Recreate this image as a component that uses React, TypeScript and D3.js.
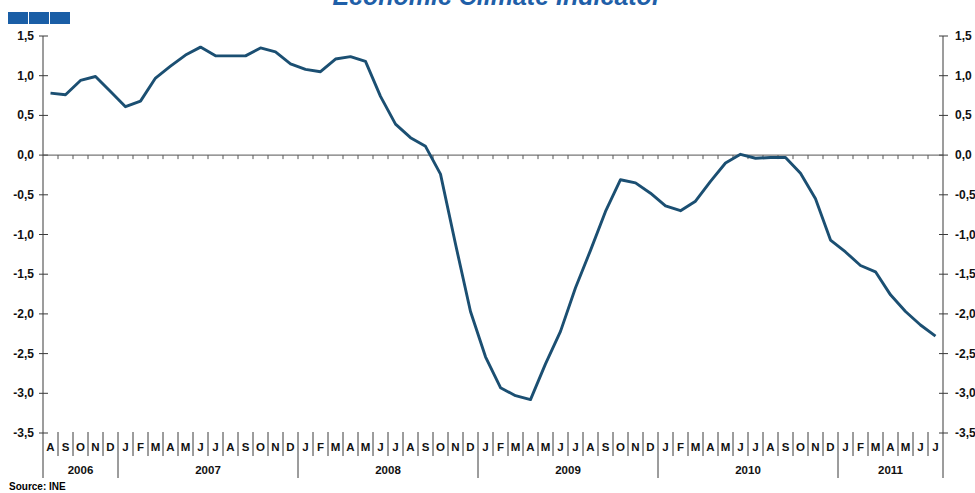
import React from 'react';
import * as d3 from 'd3';

const years = ['2006', '2007', '2008', '2009', '2010', '2011'];
const yearMonths: string[][] = [
  ['A', 'S', 'O', 'N', 'D'],
  ['J', 'F', 'M', 'A', 'M', 'J', 'J', 'A', 'S', 'O', 'N', 'D'],
  ['J', 'F', 'M', 'A', 'M', 'J', 'J', 'A', 'S', 'O', 'N', 'D'],
  ['J', 'F', 'M', 'A', 'M', 'J', 'J', 'A', 'S', 'O', 'N', 'D'],
  ['J', 'F', 'M', 'A', 'M', 'J', 'J', 'A', 'S', 'O', 'N', 'D'],
  ['J', 'F', 'M', 'A', 'M', 'J', 'J'],
];

// indicator values, Aug 2006 .. Jul 2011
const values2006 = [0.78, 0.76, 0.94, 0.99, 0.8];
const values2007 = [0.61, 0.68, 0.97, 1.12, 1.26, 1.36, 1.25, 1.25, 1.25, 1.35, 1.3, 1.15];
const values2008 = [1.08, 1.05, 1.21, 1.24, 1.18, 0.74, 0.39, 0.22, 0.11, -0.24, -1.12, -1.97];
const values2009 = [-2.54, -2.93, -3.03, -3.08, -2.63, -2.22, -1.67, -1.2, -0.71, -0.31, -0.35, -0.48];
const values2010 = [-0.64, -0.7, -0.58, -0.33, -0.1, 0.01, -0.04, -0.03, -0.03, -0.23, -0.55, -1.07];
const values2011 = [-1.22, -1.39, -1.47, -1.76, -1.97, -2.14, -2.28];

const yTicks = [1.5, 1.0, 0.5, 0.0, -0.5, -1.0, -1.5, -2.0, -2.5, -3.0, -3.5];

const values = [...values2006, ...values2007, ...values2008, ...values2009, ...values2010, ...values2011];
const monthLabels = yearMonths.flat();

const W = 975;
const H = 493;
const left = 43;
const right = 943;
const top = 36;
const bottom = 433;
const font = '"Liberation Sans", Arial, sans-serif';
const axisColor = '#3a3a3a';

const App: React.FC = () => {
  const x = d3.scaleBand<number>()
    .domain(d3.range(monthLabels.length))
    .range([left, right]);
  const y = d3.scaleLinear().domain([-3.5, 1.5]).range([bottom, top]);
  const bw = x.bandwidth();
  const fmt = (v: number) => v.toFixed(1).replace('.', ',');

  const line = d3.line<number>()
    .x((d, i) => x(i)! + bw / 2)
    .y(d => y(d));

  // first month index for each year
  const yearStart: number[] = [];
  let acc = 0;
  yearMonths.forEach(m => { yearStart.push(acc); acc += m.length; });

  return (
    <svg width={W} height={H} style={{ position: 'absolute', left: 0, top: 0, background: '#fff' }}
      fontFamily={font}>
      {/* title, partly cut at top like the original */}
      <text x={497} y={5} textAnchor="middle" fontSize={25} fontWeight="bold" fontStyle="italic"
        fill="#1f5fa8">Economic Climate Indicator</text>
      {[0, 1, 2].map(i => (
        <rect key={i} x={8 + i * 21} y={12} width={20} height={12} fill="#1a5ea6" />
      ))}

      {/* axes */}
      <line x1={left} x2={left} y1={top} y2={478} stroke={axisColor} strokeWidth={1} />
      <line x1={right} x2={right} y1={top} y2={478} stroke={axisColor} strokeWidth={1} />
      {yTicks.map(t => (
        <g key={t}>
          <line x1={left - 4} x2={left + 5} y1={y(t)} y2={y(t)} stroke={axisColor} />
          <line x1={right - 4} x2={right + 5} y1={y(t)} y2={y(t)} stroke={axisColor} />
          <text x={34} y={y(t) + 4} textAnchor="end" fontSize={12} fontWeight="bold" fill="#111">{fmt(t)}</text>
          <text x={955} y={y(t) + 4} textAnchor="start" fontSize={12} fontWeight="bold" fill="#111">{fmt(t)}</text>
        </g>
      ))}

      {/* zero line with month ticks */}
      <line x1={left} x2={right} y1={y(0)} y2={y(0)} stroke="#555" strokeWidth={1} />
      {monthLabels.map((_, i) => i > 0 && (
        <line key={'z' + i} x1={x(i)!} x2={x(i)!} y1={y(0)} y2={y(0) + 4} stroke="#555" />
      ))}

      {/* month labels and separators */}
      {monthLabels.map((m, i) => (
        <g key={'m' + i}>
          {i > 0 && (
            <line x1={x(i)!} x2={x(i)!} y1={bottom - 1}
              y2={yearStart.includes(i) ? 478 : 456} stroke={axisColor} />
          )}
          <text x={x(i)! + bw / 2} y={451} textAnchor="middle" fontSize={11.5} fontWeight="bold"
            fill="#111">{m}</text>
        </g>
      ))}
      {years.map((yr, k) => {
        const s = x(yearStart[k])!;
        const e = x(yearStart[k] + yearMonths[k].length - 1)! + bw;
        return (
          <text key={yr} x={(s + e) / 2} y={474} textAnchor="middle" fontSize={11.5} fontWeight="bold"
            fill="#111">{yr}</text>
        );
      })}

      {/* series */}
      <path d={line(values) || ''} fill="none" stroke="#1b4f72" strokeWidth={2.9}
        strokeLinejoin="round" />

      <text x={9} y={490} fontSize={10} fontWeight="bold" fill="#000">Source: INE</text>
    </svg>
  );
};

export default App;
